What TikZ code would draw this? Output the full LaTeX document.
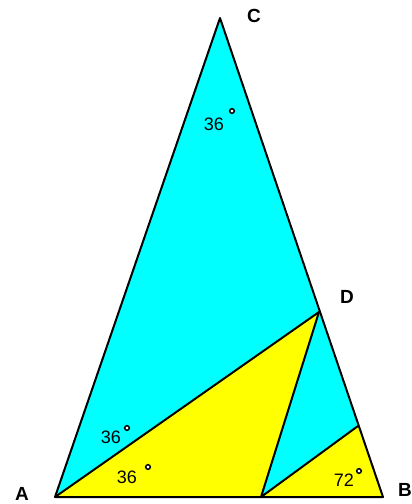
\documentclass[tikz,border=0pt]{standalone}
\usepackage{fontspec}
\setmainfont{Liberation Sans}
\definecolor{cyanfill}{RGB}{0,255,255}
\definecolor{yellowfill}{RGB}{255,255,0}
\begin{document}
\begin{tikzpicture}[x=1pt,y=-1pt,
  edge/.style={draw=black,line width=2pt,line join=round},
  vlabel/.style={font=\fontsize{19}{19}\selectfont\bfseries,inner sep=0pt},
  ang/.style={font=\fontsize{18}{18}\selectfont,inner sep=0pt},
  degmark/.style={draw=black,line width=1.5pt,fill=white}]
\useasboundingbox[fill=white] (0,0) rectangle (412,504);
\coordinate (A) at (55,497);
\coordinate (B) at (383,497);
\coordinate (C) at (220,18);
\coordinate (D) at (319,312);
\coordinate (E) at (261,497);
\coordinate (F) at (358,426);
\fill[cyanfill] (A) -- (C) -- (D) -- cycle;
\fill[yellowfill] (A) -- (D) -- (E) -- cycle;
\fill[cyanfill] (E) -- (D) -- (F) -- cycle;
\fill[yellowfill] (E) -- (F) -- (B) -- cycle;
\draw[edge] (A) -- (C) -- (B) -- cycle;
\draw[edge] (A) -- (D) -- (E) -- (F);
\node[vlabel] (lA) at (22,494) {A};
\node[vlabel] (lB) at (405,490) {B};
\node[vlabel] (lC) at (254,16) {C};
\node[vlabel] (lD) at (347,297) {D};
\node[ang] (a1) at (214,124) {36};
\node[ang] (a2) at (111,437) {36};
\node[ang] (a3) at (127,477) {36};
\node[ang] (a4) at (344,480) {72};
\draw[degmark] (232,111) circle (2.3);
\draw[degmark] (127,428) circle (2.3);
\draw[degmark] (148,467) circle (2.3);
\draw[degmark] (359,471) circle (2.3);
\end{tikzpicture}
\end{document}
